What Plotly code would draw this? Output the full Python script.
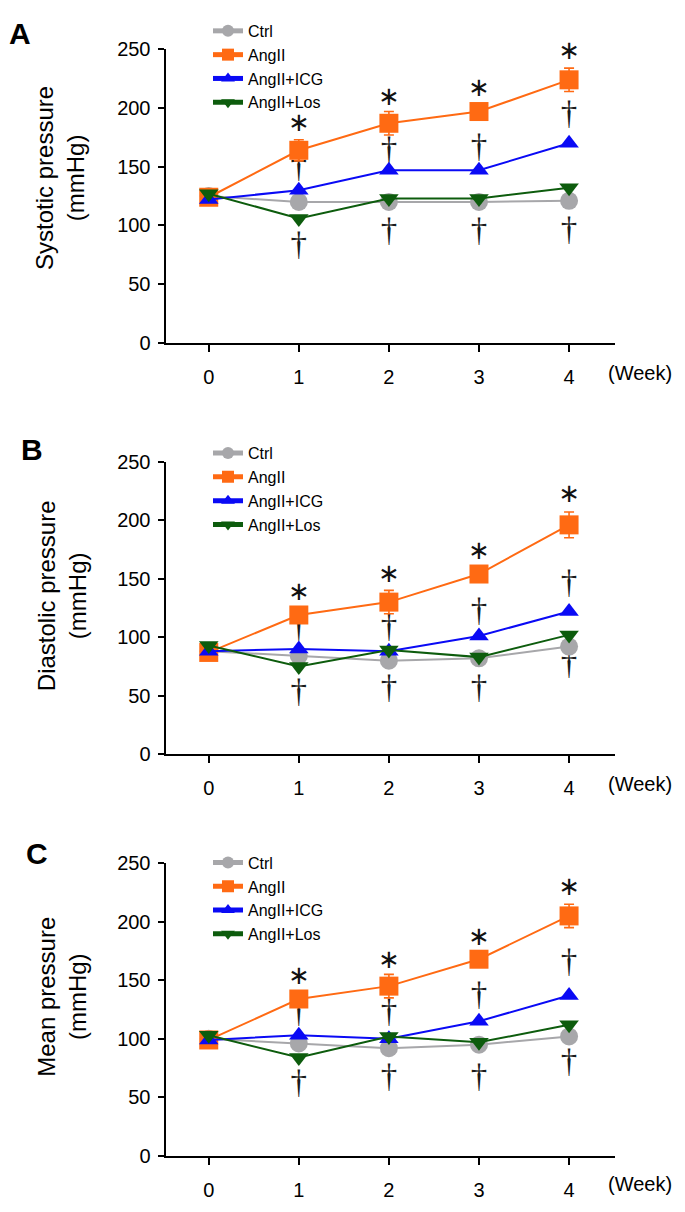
import plotly.graph_objects as go

# ---------------- data ----------------
weeks = [0, 1, 2, 3, 4]
week_labels = ["0", "1", "2", "3", "4"]
groups = ["Ctrl", "AngII", "AngII+ICG", "AngII+Los"]
y_ticks = [0, 50, 100, 150, 200, 250]

sys_ctrl = [125, 120, 120, 120, 121]
sys_ang = [124, 164, 187, 197, 224]
sys_ang_err = [3, 9, 10, 4, 10]
sys_icg = [122, 130, 147, 147, 170]
sys_los = [127, 106, 123, 123, 132]

dia_ctrl = [88, 84, 80, 82, 92]
dia_ang = [87, 119, 130, 154, 196]
dia_ang_err = [3, 4, 10, 4, 11]
dia_icg = [88, 90, 88, 101, 122]
dia_los = [93, 75, 89, 83, 102]

mean_ctrl = [100, 96, 92, 95, 102]
mean_ang = [99, 134, 145, 168, 205]
mean_ang_err = [3, 4, 10, 4, 10]
mean_icg = [99, 103, 100, 115, 137]
mean_los = [103, 84, 102, 97, 112]

sig_weeks = [1, 2, 3, 4]
# "*" AngII vs Ctrl, "†" treatment vs AngII (label heights in mmHg)
sys_star = [186, 208, 216, 247]
sys_dag_icg = [148, 163, 165, 193]
sys_dag_los = [82, 94, 94, 95]
dia_star = [137, 153, 172, 221]
dia_dag_icg = [107, 107, 121, 145]
dia_dag_los = [52, 55, 55, 76]
mean_star = [152, 166, 186, 228]
mean_dag_icg = [121, 121, 136, 164]
mean_dag_los = [61, 66, 66, 79]

panels = [
    dict(letter="A", title="Systotic pressure<br>(mmHg)", ctrl=sys_ctrl, ang=sys_ang, err=sys_ang_err,
         icg=sys_icg, los=sys_los, star=sys_star, d1=sys_dag_icg, d2=sys_dag_los),
    dict(letter="B", title="Diastolic pressure<br>(mmHg)", ctrl=dia_ctrl, ang=dia_ang, err=dia_ang_err,
         icg=dia_icg, los=dia_los, star=dia_star, d1=dia_dag_icg, d2=dia_dag_los),
    dict(letter="C", title="Mean pressure<br>(mmHg)", ctrl=mean_ctrl, ang=mean_ang, err=mean_ang_err,
         icg=mean_icg, los=mean_los, star=mean_star, d1=mean_dag_icg, d2=mean_dag_los),
]

# ---------------- style ----------------
W, H = 685, 1212
FONT = "Liberation Sans, Arial, sans-serif"
colors = ["#A7A7AA", "#FF6A13", "#0A0AF5", "#0D5C0D"]
symbols = ["circle", "square", "triangle-up", "triangle-down"]
msizes = [18, 19, 17, 17]

# plot areas in pixels (top, bottom)
plot_px = [(39, 338), (459, 757), (868, 1166)]
x_px = (165.5, 615)
legend_top_px = [3, 433, 850]
title_px = [(60, 170), (62, 596), (62, 1004)]
letter_px = [(20, 23), (32, 447), (37, 858)]
week_px = [369, 787, 1195]

fig = go.Figure()

for i, p in enumerate(panels):
    n = "" if i == 0 else str(i + 1)
    xa, ya = "x" + n, "y" + n
    leg = "legend" + n
    # significance marks (drawn underneath the data)
    for key in ("d1", "d2"):
        fig.add_trace(go.Scatter(x=sig_weeks, y=p[key], mode="text", text=["†"] * 4,
                                 textfont=dict(family="Liberation Serif, Times New Roman, serif",
                                               size=33, color="#1a1a1a"),
                                 xaxis=xa, yaxis=ya, showlegend=False, hoverinfo="skip", cliponaxis=False))
    fig.add_trace(go.Scatter(x=sig_weeks, y=p["star"], mode="text", text=["∗"] * 4,
                             textfont=dict(family="DejaVu Sans, sans-serif", size=26, color="#111"),
                             xaxis=xa, yaxis=ya, showlegend=False, hoverinfo="skip", cliponaxis=False))
    series = [p["ctrl"], p["ang"], p["icg"], p["los"]]
    for g, (name, vals) in enumerate(zip(groups, series)):
        kw = {}
        if g == 1:
            kw["error_y"] = dict(type="data", array=p["err"], visible=True, color=colors[1],
                                 thickness=1.6, width=5)
        fig.add_trace(go.Scatter(
            x=weeks, y=vals, name=name, mode="lines+markers",
            line=dict(color=colors[g], width=2),
            marker=dict(symbol=symbols[g], size=msizes[g], color=colors[g], line=dict(width=0)),
            xaxis=xa, yaxis=ya, legend=leg, cliponaxis=False, **kw))

    top, bot = plot_px[i]
    dom_y = [1 - bot / H, 1 - top / H]
    axis_common = dict(showline=True, linewidth=2, linecolor="black", ticks="outside",
                       tickwidth=2, tickcolor="black", showgrid=False, zeroline=False,
                       tickfont=dict(family=FONT, size=20, color="black"))
    fig.layout["xaxis" + n] = dict(domain=[x_px[0] / W, x_px[1] / W], range=[-0.48, 4.51],
                                   tickvals=weeks, ticktext=week_labels, ticklen=7,
                                   anchor=ya, ticklabelstandoff=8, **axis_common)
    fig.layout["yaxis" + n] = dict(domain=dom_y, range=[0, 250], tickvals=y_ticks, ticklen=6,
                                   anchor=xa, ticklabelstandoff=3, **axis_common)
    fig.layout[leg] = dict(x=208 / W, y=1 - legend_top_px[i] / H, xanchor="left", yanchor="top",
                           bgcolor="rgba(0,0,0,0)", font=dict(family=FONT, size=16, color="black"),
                           itemsizing="constant", tracegroupgap=0, itemwidth=30)
    fig.add_annotation(x=title_px[i][0] / W, y=1 - title_px[i][1] / H, xref="paper", yref="paper",
                       xanchor="center", yanchor="middle",
                       text=p["title"], textangle=-90, showarrow=False,
                       font=dict(family=FONT, size=24, color="black"))
    fig.add_annotation(x=letter_px[i][0] / W, y=1 - letter_px[i][1] / H, xref="paper", yref="paper",
                       xanchor="center", yanchor="middle",
                       text="<b>" + p["letter"] + "</b>", showarrow=False,
                       font=dict(family=FONT, size=30, color="black"))
    fig.add_annotation(x=640 / W, y=1 - week_px[i] / H, xref="paper", yref="paper",
                       xanchor="center", yanchor="middle",
                       text="(Week)", showarrow=False,
                       font=dict(family=FONT, size=20, color="black"))

fig.update_layout(width=W, height=H, margin=dict(l=0, r=0, t=0, b=0),
                  paper_bgcolor="white", plot_bgcolor="white", showlegend=True)

post = (
    "document.documentElement.style.margin='0';"
    "document.documentElement.style.padding='0';"
    "document.documentElement.style.overflow='hidden';"
    "document.body.style.margin='0';"
    "document.body.style.padding='0';"
    "document.body.style.overflow='hidden';"
    "var gd=document.getElementById('{plot_id}');"
    "if(gd&&gd.parentElement){gd.parentElement.style.height='1212px';"
    "gd.parentElement.style.overflow='hidden';}"
)
fig.write_html("out.html", config={"displayModeBar": False}, post_script=post)
